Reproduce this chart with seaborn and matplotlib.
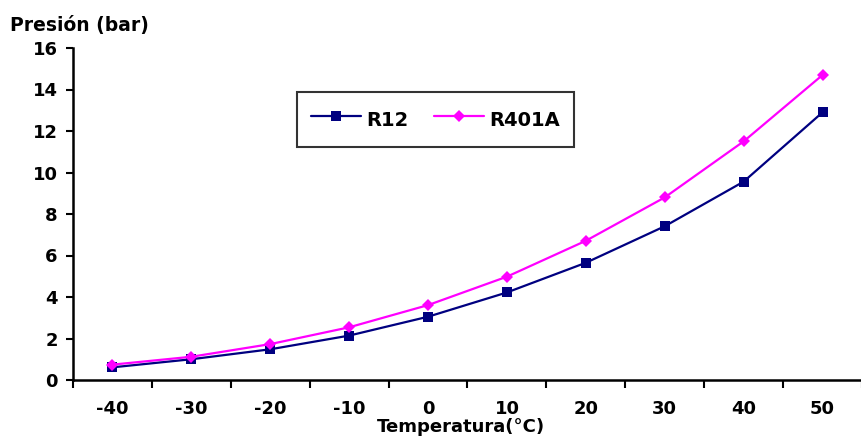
import matplotlib
matplotlib.use("Agg")
import matplotlib.pyplot as plt
import numpy as np
import pandas as pd
import seaborn as sns

temps = [-40, -30, -20, -10, 0, 10, 20, 30, 40, 50]
r12 = [0.61, 1.0, 1.48, 2.14, 3.05, 4.22, 5.65, 7.41, 9.56, 12.9]
r401a = [0.74, 1.12, 1.73, 2.54, 3.61, 4.98, 6.71, 8.8, 11.5, 14.7]
series = ["R12", "R401A"]
colors = {"R12": "#000080", "R401A": "#FF00FF"}

sns.set_style("white")
plt.rcParams["font.family"] = ["DejaVu Sans"]
plt.rcParams["font.weight"] = "bold"
plt.rcParams["text.color"] = "black"
plt.rcParams["xtick.color"] = "black"
plt.rcParams["ytick.color"] = "black"
plt.rcParams["axes.labelcolor"] = "black"

pos = list(range(len(temps)))
df = pd.DataFrame({
    "pos": pos * 2,
    "presion": r12 + r401a,
    "gas": ["R12"] * len(temps) + ["R401A"] * len(temps),
})

fig = plt.figure(figsize=(8.62, 4.42), dpi=100)
ax = fig.add_axes([73 / 862, 62 / 442, 789 / 862, 332 / 442])

sns.lineplot(data=df, x="pos", y="presion", hue="gas", style="gas",
             palette=colors, markers={"R12": "s", "R401A": "D"},
             dashes=False, linewidth=1.6, markeredgewidth=0, ax=ax)
for ln in ax.lines:
    if ln.get_marker() == "D":
        ln.set_markersize(6.5)
    else:
        ln.set_markersize(7)

ax.set_ylim(0, 16)
ax.set_yticks(np.arange(0, 17, 2))
ax.set_xlim(-0.5, 9.43)
ax.set_xticks(pos)
ax.set_xticklabels(temps)
ax.set_xticks(np.arange(-0.5, 10, 1), minor=True)
ax.tick_params(axis="x", which="major", length=0, pad=14.5, labelsize=13,
               labelcolor="black")
ax.tick_params(axis="x", which="minor", length=6, width=1.5, color="black", bottom=True)
ax.tick_params(axis="y", length=5, width=1.5, color="black", left=True, pad=6,
               labelsize=13, labelcolor="black")
for lab in ax.get_xticklabels() + ax.get_yticklabels():
    lab.set_fontweight("bold")

sns.despine(ax=ax)
for s in ["left", "bottom"]:
    ax.spines[s].set_color("black")
    ax.spines[s].set_linewidth(1.8)

ax.set_xlabel("Temperatura(°C)", fontsize=13, fontweight="bold", color="black",
              va="top")
ax.xaxis.set_label_coords(0.492, -0.1145)
ax.set_ylabel("Presión (bar)", fontsize=13.5, fontweight="bold", rotation=0,
              ha="left", va="center", color="black")
ax.yaxis.set_label_coords(-0.080, 1.069)

handles, labels = ax.get_legend_handles_labels()
leg = ax.legend(handles, labels, loc="upper left", bbox_to_anchor=(0.284, 0.867),
                ncol=2, frameon=True, fancybox=False, shadow=False,
                prop={"size": 14, "weight": "bold"}, borderpad=0.7,
                handlelength=2.58, handleheight=1.8, handletextpad=0.26,
                columnspacing=1.34, borderaxespad=0)
leg.get_frame().set_edgecolor("black")
leg.get_frame().set_linewidth(1.5)
for t in leg.get_texts():
    t.set_color("black")

fig.savefig("out.png", dpi=100)
